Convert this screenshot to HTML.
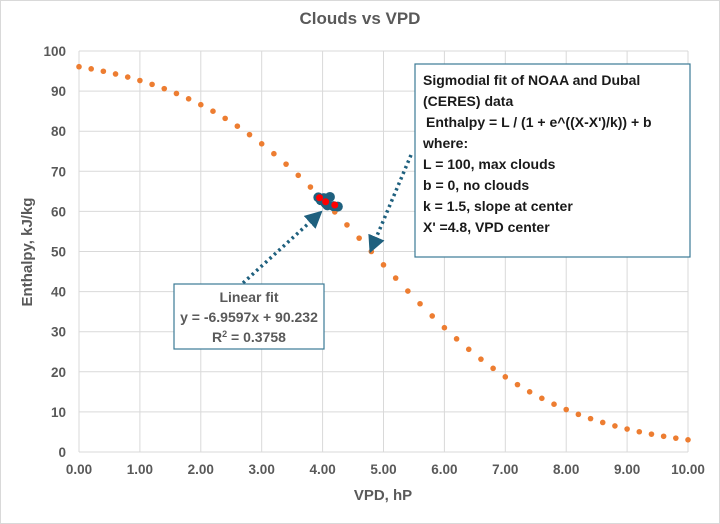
<!DOCTYPE html>
<html><head><meta charset="utf-8"><style>
body{margin:0;background:#fff;}
svg{display:block;font-family:"Liberation Sans",sans-serif;}
</style></head><body>
<svg id="chart" width="720" height="524" viewBox="0 0 720 524">
<rect x="0.5" y="0.5" width="719" height="523" fill="#fff" stroke="#d9d9d9"/>
<text x="360" y="24" text-anchor="middle" font-size="17" font-weight="bold" fill="#595959">Clouds vs VPD</text>
<g id="grid"></g><g id="ticks"></g><g id="marks"></g>
<text x="383" y="500" text-anchor="middle" font-size="15" font-weight="bold" fill="#595959">VPD, hP</text>
<text transform="translate(32,252) rotate(-90)" text-anchor="middle" font-size="15" font-weight="bold" fill="#595959">Enthalpy, kJ/kg</text>
<defs><marker id="ah" viewBox="0 0 10 10" refX="8" refY="5" markerWidth="5" markerHeight="5" orient="auto"><path d="M0,0L10,5L0,10z" fill="#1f607e"/></marker></defs>
<line x1="243" y1="283" x2="320" y2="213" stroke="#1f607e" stroke-width="3.5" stroke-dasharray="2.5,3.5" marker-end="url(#ah)"/>
<line x1="411" y1="155" x2="371" y2="250" stroke="#1f607e" stroke-width="3.5" stroke-dasharray="2.5,3.5" marker-end="url(#ah)"/>
<g>
<rect x="415" y="64" width="275" height="193" fill="#fff" stroke="#3b7a95" stroke-width="1.2"/>
<g font-size="14" font-weight="bold" fill="#1a1a1a">
<text x="423" y="85">Sigmodial fit of NOAA and Dubal</text>
<text x="423" y="106">(CERES) data</text>
<text x="426" y="127">Enthalpy = L / (1 + e^((X-X')/k)) + b</text>
<text x="423" y="148">where:</text>
<text x="423" y="169">L = 100,  max clouds</text>
<text x="423" y="190">b = 0, no clouds</text>
<text x="423" y="211">k = 1.5, slope at center</text>
<text x="423" y="232">X' =4.8,  VPD center</text>
</g></g>
<g>
<rect x="174" y="284" width="150" height="65" fill="#fff" stroke="#3b7a95" stroke-width="1.2"/>
<g font-size="14" font-weight="bold" fill="#595959" text-anchor="middle">
<text x="249" y="302">Linear fit</text>
<text x="249" y="322">y = -6.9597x + 90.232</text>
<text x="249" y="342">R<tspan font-size="9" dy="-5">2</tspan><tspan dy="5"> = 0.3758</tspan></text>
</g></g>
</svg>
<script>
const xTicks=[0,1,2,3,4,5,6,7,8,9,10];
const yTicks=[0,10,20,30,40,50,60,70,80,90,100];
const sigX=[0,0.2,0.4,0.6,0.8,1,1.2,1.4,1.6,1.8,2,2.2,2.4,2.6,2.8,3,3.2,3.4,3.6,3.8,4,4.2,4.4,4.6,4.8,5,5.2,5.4,5.6,5.8,6,6.2,6.4,6.6,6.8,7,7.2,7.4,7.6,7.8,8,8.2,8.4,8.6,8.8,9,9.2,9.4,9.6,9.8,10];
const sigY=[96.08,95.55,94.95,94.27,93.5,92.64,91.68,90.61,89.41,88.08,86.61,84.99,83.2,81.26,79.14,76.85,74.39,71.78,69.0,66.08,63.03,59.87,56.63,53.33,50,46.67,43.37,40.13,36.97,33.92,31.0,28.22,25.61,23.15,20.86,18.74,16.8,15.01,13.39,11.92,10.59,9.39,8.32,7.36,6.5,5.73,5.05,4.45,3.92,3.45,3.04];
const obsX=[3.97,4.02,4.08,4.12,4.18,4.25,4.05,3.93];
const obsY=[62.8,63.3,61.5,63.6,61.3,61.2,62.0,63.5];
const redX=[3.95,4.05,4.2];
const redY=[63.4,62.4,61.6];
const NS='http://www.w3.org/2000/svg';
const X=v=>79+v*60.9, Y=v=>452-v*4.01;
function mk(tag,attrs,parent){const e=document.createElementNS(NS,tag);for(const k in attrs)e.setAttribute(k,attrs[k]);document.getElementById(parent).appendChild(e);return e;}
xTicks.forEach(t=>{
 const l=mk('line',{x1:X(t),x2:X(t),y1:Y(100),y2:Y(0),stroke:'#d9d9d9','stroke-width':1},'grid');
 
 
 const s=mk('text',{x:X(t),y:474,'text-anchor':'middle','font-size':13.5,'font-weight':'bold',fill:'#595959'},'ticks');
 s.textContent=t.toFixed(2);
 
 
});
yTicks.forEach(t=>{
 const l=mk('line',{x1:X(0),x2:X(10),y1:Y(t),y2:Y(t),stroke:'#d9d9d9','stroke-width':1},'grid');
 
 
 const s=mk('text',{x:66,y:Y(t)+5,'text-anchor':'end','font-size':13.5,'font-weight':'bold',fill:'#595959'},'ticks');
 s.textContent=t;
 
 
});
sigX.forEach((x,i)=>{
 const c=mk('circle',{cx:X(x),cy:Y(sigY[i]),r:2.8,fill:'#ed7d31'},'marks');
 
 
});
obsX.forEach((x,i)=>{
 const c=mk('circle',{cx:X(x),cy:Y(obsY[i]),r:5,fill:'#1f607e'},'marks');
 
 
});
redX.forEach((x,i)=>{
 const c=mk('circle',{cx:X(x),cy:Y(redY[i]),r:3.5,fill:'#ff0000'},'marks');
 
 
});
</script>
</body></html>
